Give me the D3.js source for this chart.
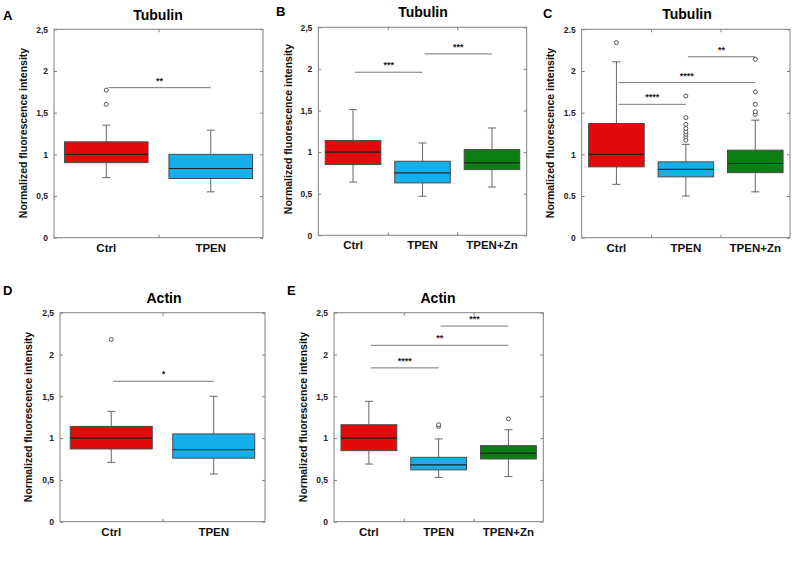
<!DOCTYPE html>
<html><head><meta charset="utf-8">
<script src="https://cdn.jsdelivr.net/npm/d3@7"></script>
<style>body{margin:0;background:#fff;} text{font-family:"Liberation Sans",Arial,sans-serif;font-weight:bold;}</style>
</head><body>
<svg id="fig" width="793" height="561"></svg>
<script>
// ---- data ----
const yTicks = [0, 0.5, 1, 1.5, 2, 2.5];
const tickLabelsComma = ["0", "0,5", "1", "1,5", "2", "2,5"];
const tickLabelsDot = ["0", "0.5", "1", "1.5", "2", "2.5"];
const cats2 = ["Ctrl", "TPEN"];
const cats3 = ["Ctrl", "TPEN", "TPEN+Zn"];
const colors3 = ["#e20a0a", "#15b0ec", "#0d7e14"];
const titles = ["Tubulin", "Tubulin", "Tubulin", "Actin", "Actin"];
const letters = ["A", "B", "C", "D", "E"];

// [whisker low, Q1, median, Q3, whisker high]
const statsA = [[0.72, 0.90, 1.00, 1.15, 1.35], [0.55, 0.71, 0.83, 1.00, 1.29]];
const outliersA = [[1.60, 1.77], []];
const sigA = [[0, 1, 1.80, "**"]];

const statsB = [[0.64, 0.85, 1.00, 1.14, 1.51], [0.47, 0.63, 0.75, 0.89, 1.11], [0.58, 0.79, 0.87, 1.03, 1.29]];
const outliersB = [[], [], []];
const sigB = [[0, 1, 1.96, "***"], [1, 2, 2.18, "***"]];

const statsC = [[0.64, 0.85, 1.00, 1.37, 2.11], [0.50, 0.73, 0.82, 0.91, 1.12], [0.55, 0.78, 0.89, 1.05, 1.41]];
const outliersC = [[2.34], [1.17, 1.21, 1.24, 1.27, 1.31, 1.36, 1.44, 1.70], [1.48, 1.51, 1.60, 1.75, 2.14]];
const sigC = [[0, 1, 1.60, "****"], [0, 2, 1.86, "****"], [1, 2, 2.17, "**"]];

const statsD = [[0.71, 0.87, 1.00, 1.14, 1.32], [0.57, 0.76, 0.86, 1.05, 1.50]];
const outliersD = [[2.18], []];
const sigD = [[0, 1, 1.68, "*"]];

const statsE = [[0.69, 0.85, 1.00, 1.16, 1.44], [0.53, 0.62, 0.68, 0.77, 0.99], [0.54, 0.75, 0.82, 0.91, 1.10]];
const outliersE = [[], [1.14, 1.16], [1.23]];
const sigE = [[0, 1, 1.84, "****"], [0, 2, 2.11, "**"], [1, 2, 2.34, "***"]];

// ---- layout ----
const panels = [
  {cats: cats2, stats: statsA, out: outliersA, sig: sigA, labels: tickLabelsComma, box: [54, 29.3, 263, 237.7], letter: [3, 20], title: [158, 20], ylab: [23, 133]},
  {cats: cats3, stats: statsB, out: outliersB, sig: sigB, labels: tickLabelsComma, box: [318.3, 27.3, 526.7, 235.3], letter: [276, 16], title: [423, 17], ylab: [288, 129]},
  {cats: cats3, stats: statsC, out: outliersC, sig: sigC, labels: tickLabelsDot, box: [581.7, 29.3, 790, 237.7], letter: [543, 18], title: [687, 19], ylab: [550, 133]},
  {cats: cats2, stats: statsD, out: outliersD, sig: sigD, labels: tickLabelsComma, box: [60, 312.7, 265, 521.7], letter: [3, 295], title: [164, 303], ylab: [28, 417]},
  {cats: cats3, stats: statsE, out: outliersE, sig: sigE, labels: tickLabelsComma, box: [334, 312.7, 543.3, 521.7], letter: [287, 295], title: [438, 303], ylab: [303, 417]}
];

const svg = d3.select("#fig");
const frameCol = "#808080", whiskCol = "#666", boxStroke = "#4a4a4a";

panels.forEach((p, pi) => {
  const [x0, y0, x1, y1] = p.box;
  const g = svg.append("g");
  const y = d3.scaleLinear().domain([0, 2.5]).range([y1, y0]);
  const x = d3.scaleBand().domain(p.cats).range([x0, x1]).paddingInner(0).paddingOuter(0);
  const bw = x.bandwidth();
  const boxW = bw * 0.8;
  const colors = p.cats.map((c, i) => colors3[i]);

  g.append("rect").attr("x", x0).attr("y", y0).attr("width", x1 - x0).attr("height", y1 - y0)
    .attr("fill", "none").attr("stroke", frameCol).attr("stroke-width", 1);

  const yAxis = d3.axisLeft(y).tickValues(yTicks).tickSize(-3).tickPadding(6)
    .tickFormat((d, i) => p.labels[i]);
  const ga = g.append("g").attr("transform", `translate(${x0},0)`).call(yAxis);
  ga.select(".domain").remove();
  ga.selectAll("line").attr("stroke", frameCol);
  ga.selectAll("text").attr("font-size", 8.5).attr("fill", "#222").attr("font-family", "Liberation Sans, Arial").attr("font-weight", "bold");
  const yAxisR = d3.axisRight(y).tickValues(yTicks).tickSize(-3).tickFormat("");
  const gr = g.append("g").attr("transform", `translate(${x1},0)`).call(yAxisR);
  gr.select(".domain").remove();
  gr.selectAll("line").attr("stroke", frameCol);

  const borders = p.cats.slice(1).map(c => x(c));
  const xb = d3.scaleLinear().domain([x0, x1]).range([x0, x1]);
  const gb = g.append("g").attr("transform", `translate(0,${y1})`).call(d3.axisBottom(xb).tickValues(borders).tickSize(-3).tickFormat(""));
  gb.select(".domain").remove(); gb.selectAll("line").attr("stroke", frameCol);
  const gt = g.append("g").attr("transform", `translate(0,${y0})`).call(d3.axisTop(xb).tickValues(borders).tickSize(-3).tickFormat(""));
  gt.select(".domain").remove(); gt.selectAll("line").attr("stroke", frameCol);

  const gx = g.append("g").attr("transform", `translate(0,${y1})`).call(d3.axisBottom(x).tickSize(0).tickPadding(6));
  gx.select(".domain").remove();
  gx.selectAll("text").attr("font-size", 11.5).attr("fill", "#111").attr("font-family", "Liberation Sans, Arial").attr("font-weight", "bold");

  p.cats.forEach((c, i) => {
    const [wl, q1, med, q3, wh] = p.stats[i];
    const cx = x(c) + bw / 2;
    const bg = g.append("g");
    bg.append("line").attr("x1", cx).attr("x2", cx).attr("y1", y(wl)).attr("y2", y(q1)).attr("stroke", whiskCol);
    bg.append("line").attr("x1", cx).attr("x2", cx).attr("y1", y(q3)).attr("y2", y(wh)).attr("stroke", whiskCol);
    bg.append("line").attr("x1", cx - 4).attr("x2", cx + 4).attr("y1", y(wl)).attr("y2", y(wl)).attr("stroke", whiskCol);
    bg.append("line").attr("x1", cx - 4).attr("x2", cx + 4).attr("y1", y(wh)).attr("y2", y(wh)).attr("stroke", whiskCol);
    bg.append("rect").attr("x", cx - boxW / 2).attr("y", y(q3)).attr("width", boxW).attr("height", y(q1) - y(q3))
      .attr("fill", colors[i]).attr("stroke", boxStroke).attr("stroke-width", 1);
    bg.append("line").attr("x1", cx - boxW / 2).attr("x2", cx + boxW / 2).attr("y1", y(med)).attr("y2", y(med))
      .attr("stroke", "#222").attr("stroke-width", 1.1);
    bg.selectAll("circle").data(p.out[i]).enter().append("circle")
      .attr("cx", cx).attr("cy", d => y(d)).attr("r", 2)
      .attr("fill", "#fff").attr("stroke", "#444").attr("stroke-width", 0.9);
  });

  p.sig.forEach(([a, b, v, s]) => {
    const xa = x(p.cats[a]) + bw / 2 + 2, xbb = x(p.cats[b]) + bw / 2;
    g.append("line").attr("x1", xa).attr("x2", xbb).attr("y1", y(v)).attr("y2", y(v)).attr("stroke", "#777").attr("stroke-width", 1);
    g.append("text").attr("x", (xa + xbb) / 2).attr("y", y(v) - 4).attr("text-anchor", "middle")
      .attr("font-size", 9).attr("fill", "#222").text(s);
  });

  svg.append("text").attr("x", p.letter[0]).attr("y", p.letter[1]).attr("font-size", 13).attr("fill", "#000").text(letters[pi]);
  svg.append("text").attr("x", p.title[0]).attr("y", p.title[1]).attr("text-anchor", "middle").attr("font-size", 14).attr("fill", "#000").text(titles[pi]);
  svg.append("text").attr("transform", `translate(${p.ylab[0]},${p.ylab[1]}) rotate(-90)`).attr("text-anchor", "middle")
    .attr("dominant-baseline", "central").attr("font-size", 10.5).attr("fill", "#111").text("Normalized fluorescence intensity");
});
</script>
</body></html>
